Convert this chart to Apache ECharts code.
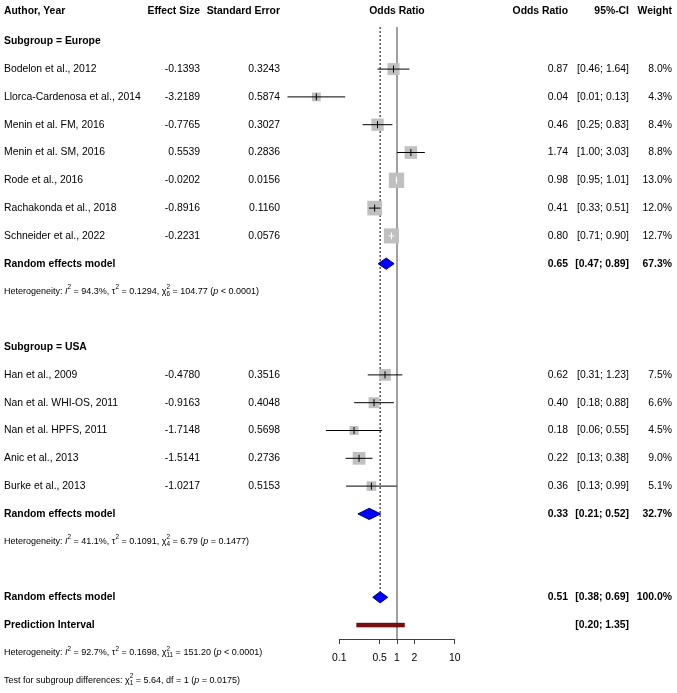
<!DOCTYPE html>
<html>
<head>
<meta charset="utf-8">
<script src="https://cdn.jsdelivr.net/npm/echarts@6/dist/echarts.min.js"></script>
<style>
html, body { margin: 0; padding: 0; background: #fff; }
#main { width: 677px; height: 693px; }
</style>
</head>
<body>
<div id="main"></div>
<script>
var FONT = '"Liberation Sans", Arial, Helvetica, sans-serif';

// studies
var studyLabels = ['Bodelon et al., 2012', 'Llorca-Cardenosa et al., 2014', 'Menin et al. FM, 2016',
    'Menin et al. SM, 2016', 'Rode et al., 2016', 'Rachakonda et al., 2018', 'Schneider et al., 2022',
    'Han et al., 2009', 'Nan et al. WHI-OS, 2011', 'Nan et al. HPFS, 2011', 'Anic et al., 2013', 'Burke et al., 2013'];
var studyRows = [1, 2, 3, 4, 5, 6, 7, 12, 13, 14, 15, 16];
var effectSize = [-0.1393, -3.2189, -0.7765, 0.5539, -0.0202, -0.8916, -0.2231, -0.4780, -0.9163, -1.7148, -1.5141, -1.0217];
var standardError = [0.3243, 0.5874, 0.3027, 0.2836, 0.0156, 0.1160, 0.0576, 0.3516, 0.4048, 0.5698, 0.2736, 0.5153];
var oddsRatioText = ['0.87', '0.04', '0.46', '1.74', '0.98', '0.41', '0.80', '0.62', '0.40', '0.18', '0.22', '0.36'];
var ciText = ['[0.46; 1.64]', '[0.01; 0.13]', '[0.25; 0.83]', '[1.00; 3.03]', '[0.95; 1.01]', '[0.33; 0.51]',
    '[0.71; 0.90]', '[0.31; 1.23]', '[0.18; 0.88]', '[0.06; 0.55]', '[0.13; 0.38]', '[0.13; 0.99]'];
var weightPct = [8.0, 4.3, 8.4, 8.8, 13.0, 12.0, 12.7, 7.5, 6.6, 4.5, 9.0, 5.1];

// subgroups
var subgroupLabels = ['Subgroup = Europe', 'Subgroup = USA'];
var subgroupRows = [0, 11];

// pooled estimates (Europe, USA, overall)
var pooledLabels = ['Random effects model', 'Random effects model', 'Random effects model'];
var pooledRows = [8, 17, 20];
var pooledOR = [0.65, 0.33, 0.51];
var pooledLower = [0.47, 0.21, 0.38];
var pooledUpper = [0.89, 0.52, 0.69];
var pooledWeight = ['67.3%', '32.7%', '100.0%'];

// prediction interval
var predictionLabel = 'Prediction Interval';
var predictionRow = 21;
var predictionCI = [0.20, 1.35];

// heterogeneity / test lines: [text, kind]
var hetRows = [9, 18, 22, 23];
var hetTexts = [
    [['Heterogeneity: '], ['I', 'i'], ['2', 'sup'], [' = 94.3%, \u03c4'], ['2', 'sup'], [' = 0.1294, \u03c7'], ['2', 'sup'], ['6', 'sub'], [' = 104.77 ('], ['p', 'i'], [' < 0.0001)']],
    [['Heterogeneity: '], ['I', 'i'], ['2', 'sup'], [' = 41.1%, \u03c4'], ['2', 'sup'], [' = 0.1091, \u03c7'], ['2', 'sup'], ['4', 'sub'], [' = 6.79 ('], ['p', 'i'], [' = 0.1477)']],
    [['Heterogeneity: '], ['I', 'i'], ['2', 'sup'], [' = 92.7%, \u03c4'], ['2', 'sup'], [' = 0.1698, \u03c7'], ['2', 'sup'], ['11', 'sub'], [' = 151.20 ('], ['p', 'i'], [' < 0.0001)']],
    [['Test for subgroup differences: \u03c7'], ['2', 'sup'], ['1', 'sub'], [' = 5.64, df = 1 ('], ['p', 'i'], [' = 0.0175)']]
];

var headerRow = -1.1;
var headerCells = ['Author, Year', 'Effect Size', 'Standard Error', 'Odds Ratio', 'Odds Ratio', '95%-CI', 'Weight'];
var axisTicks = [0.1, 0.5, 1, 2, 10];

// layout
var COL = { label: 4, es: 200, se: 280, or: 568, ci: 629, w: 672 };
var BOX = 4.25;      // square side per sqrt(weight %)
var DIAMOND_H = 5.6;
var FS = 10.4, FS_SMALL = 9, FS_SCRIPT = 6.4;

function lg(v) { return Math.log(v) / Math.LN10; }
function fmt(v) { return v.toFixed(2); }

var measureCtx = document.createElement('canvas').getContext('2d');
function textWidth(str, size, italic) {
    measureCtx.font = (italic ? 'italic ' : '') + size + 'px ' + FONT;
    return measureCtx.measureText(str).width;
}

// build table text rows
var textRows = [];
textRows.push({ row: headerRow, cells: [
    { t: headerCells[0], x: COL.label, a: 'left', b: true },
    { t: headerCells[1], x: COL.es, a: 'right', b: true },
    { t: headerCells[2], x: COL.se, a: 'right', b: true },
    { t: headerCells[3], x: 'plot', a: 'center', b: true },
    { t: headerCells[4], x: COL.or, a: 'right', b: true },
    { t: headerCells[5], x: COL.ci, a: 'right', b: true },
    { t: headerCells[6], x: COL.w, a: 'right', b: true }
]});
subgroupLabels.forEach(function (s, i) {
    textRows.push({ row: subgroupRows[i], cells: [{ t: s, x: COL.label, a: 'left', b: true }] });
});
studyLabels.forEach(function (s, i) {
    textRows.push({ row: studyRows[i], cells: [
        { t: s, x: COL.label, a: 'left' },
        { t: effectSize[i].toFixed(4), x: COL.es, a: 'right' },
        { t: standardError[i].toFixed(4), x: COL.se, a: 'right' },
        { t: oddsRatioText[i], x: COL.or, a: 'right' },
        { t: ciText[i], x: COL.ci, a: 'right' },
        { t: weightPct[i].toFixed(1) + '%', x: COL.w, a: 'right' }
    ]});
});
pooledLabels.forEach(function (s, i) {
    textRows.push({ row: pooledRows[i], cells: [
        { t: s, x: COL.label, a: 'left', b: true },
        { t: fmt(pooledOR[i]), x: COL.or, a: 'right', b: true },
        { t: '[' + fmt(pooledLower[i]) + '; ' + fmt(pooledUpper[i]) + ']', x: COL.ci, a: 'right', b: true },
        { t: pooledWeight[i], x: COL.w, a: 'right', b: true }
    ]});
});
textRows.push({ row: predictionRow, cells: [
    { t: predictionLabel, x: COL.label, a: 'left', b: true },
    { t: '[' + fmt(predictionCI[0]) + '; ' + fmt(predictionCI[1]) + ']', x: COL.ci, a: 'right', b: true }
]});
hetTexts.forEach(function (segs, i) {
    textRows.push({ row: hetRows[i], segs: segs });
});

function renderText(params, api) {
    var r = textRows[params.dataIndex];
    var y = api.coord([0, r.row])[1];
    var children = [];
    if (r.segs) {
        var x = COL.label, supX = x;
        r.segs.forEach(function (sg) {
            var kind = sg[1] || 'n';
            var size = (kind === 'sup' || kind === 'sub') ? FS_SCRIPT : FS_SMALL;
            var italic = kind === 'i';
            var w = textWidth(sg[0], size, italic);
            var px = x, py = y;
            if (kind === 'sup') { supX = x; py = y - 4; }
            if (kind === 'sub') { px = supX; py = y + 2.8; }
            children.push({ type: 'text', style: {
                text: sg[0], x: px, y: py, align: 'left', verticalAlign: 'middle',
                fontSize: size, fontFamily: FONT, fontStyle: italic ? 'italic' : 'normal', fill: '#000'
            }});
            if (kind === 'sub') x = Math.max(x, supX + w);
            else x = px + w;
        });
    } else {
        r.cells.forEach(function (c) {
            var cx = c.x === 'plot' ? api.coord([0, r.row])[0] : c.x;
            children.push({ type: 'text', style: {
                text: c.t, x: cx, y: y, align: c.a, verticalAlign: 'middle',
                fontSize: FS, fontFamily: FONT, fontWeight: c.b ? 'bold' : 'normal', fill: '#000'
            }});
        });
    }
    return { type: 'group', children: children };
}

function renderStudy(params, api) {
    var i = params.dataIndex, row = studyRows[i];
    var es = effectSize[i], se = standardError[i];
    var c = api.coord([es / Math.LN10, row]);
    var lo = api.coord([(es - 1.96 * se) / Math.LN10, row])[0];
    var hi = api.coord([(es + 1.96 * se) / Math.LN10, row])[0];
    var side = BOX * Math.sqrt(weightPct[i]);
    var lc = (hi - lo) < side / 2 ? '#ffffff' : '#000000';
    return { type: 'group', children: [
        { type: 'rect', shape: { x: c[0] - side / 2, y: c[1] - side / 2, width: side, height: side }, style: { fill: '#c0c0c0' } },
        { type: 'line', shape: { x1: lo, y1: c[1], x2: hi, y2: c[1] }, style: { stroke: lc, lineWidth: 1 } },
        { type: 'line', shape: { x1: c[0], y1: c[1] - 3.5, x2: c[0], y2: c[1] + 3.5 }, style: { stroke: lc, lineWidth: 1 } }
    ]};
}

function renderDiamond(params, api) {
    var i = params.dataIndex, row = pooledRows[i];
    var c = api.coord([lg(pooledOR[i]), row]);
    var lo = api.coord([lg(pooledLower[i]), row])[0];
    var hi = api.coord([lg(pooledUpper[i]), row])[0];
    return { type: 'polygon', shape: { points: [[lo, c[1]], [c[0], c[1] - DIAMOND_H], [hi, c[1]], [c[0], c[1] + DIAMOND_H]] },
        style: { fill: '#0000ff', stroke: '#00006e', lineWidth: 1 } };
}

function renderPrediction(params, api) {
    var lo = api.coord([lg(predictionCI[0]), predictionRow]);
    var hi = api.coord([lg(predictionCI[1]), predictionRow]);
    return { type: 'rect', shape: { x: lo[0], y: lo[1] - 2, width: hi[0] - lo[0], height: 4 },
        style: { fill: '#7a1010', stroke: '#5a0a0a', lineWidth: 0.5 } };
}

function renderRefLines(params, api) {
    var top = api.coord([0, -0.514])[1];
    var bottom = api.coord([0, 21.5]);
    var overall = pooledOR.length - 1;
    var d = api.coord([lg(pooledOR[overall]), pooledRows[overall]]);
    return { type: 'group', children: [
        { type: 'line', shape: { x1: bottom[0], y1: top, x2: bottom[0], y2: bottom[1] }, style: { stroke: '#404040', lineWidth: 1 } },
        { type: 'line', shape: { x1: d[0], y1: top, x2: d[0], y2: d[1] - DIAMOND_H }, style: { stroke: '#000', lineWidth: 1, lineDash: [2, 2] } }
    ]};
}

var chart = echarts.init(document.getElementById('main'));
chart.setOption({
    animation: false,
    backgroundColor: '#fff',
    grid: { left: 339.3, right: 222.3, top: 41.3, bottom: 54 },
    xAxis: {
        type: 'value', min: -1, max: 1, position: 'bottom',
        splitLine: { show: false },
        axisLine: { show: true, onZero: false, lineStyle: { color: '#404040', width: 1 } },
        axisTick: { show: true, length: 5, lineStyle: { color: '#404040' }, customValues: axisTicks.map(lg) },
        axisLabel: {
            customValues: axisTicks.map(lg), margin: 14, fontSize: FS, fontFamily: FONT, color: '#000',
            formatter: function (v) { return String(+Math.pow(10, v).toPrecision(3)); }
        }
    },
    yAxis: { type: 'value', inverse: true, min: 0, max: 21.5, show: false },
    series: [
        { type: 'custom', renderItem: renderRefLines, data: [[0, 0]], silent: true, z: 1 },
        { type: 'custom', renderItem: renderStudy, data: studyRows.map(function (r, i) { return [effectSize[i] / Math.LN10, r]; }), silent: true, z: 2 },
        { type: 'custom', renderItem: renderDiamond, data: pooledRows.map(function (r, i) { return [lg(pooledOR[i]), r]; }), silent: true, z: 3 },
        { type: 'custom', renderItem: renderPrediction, data: [[0, predictionRow]], silent: true, z: 3 },
        { type: 'custom', renderItem: renderText, data: textRows.map(function (r) { return [0, r.row]; }), silent: true, z: 4 }
    ]
});
</script>
</body>
</html>
